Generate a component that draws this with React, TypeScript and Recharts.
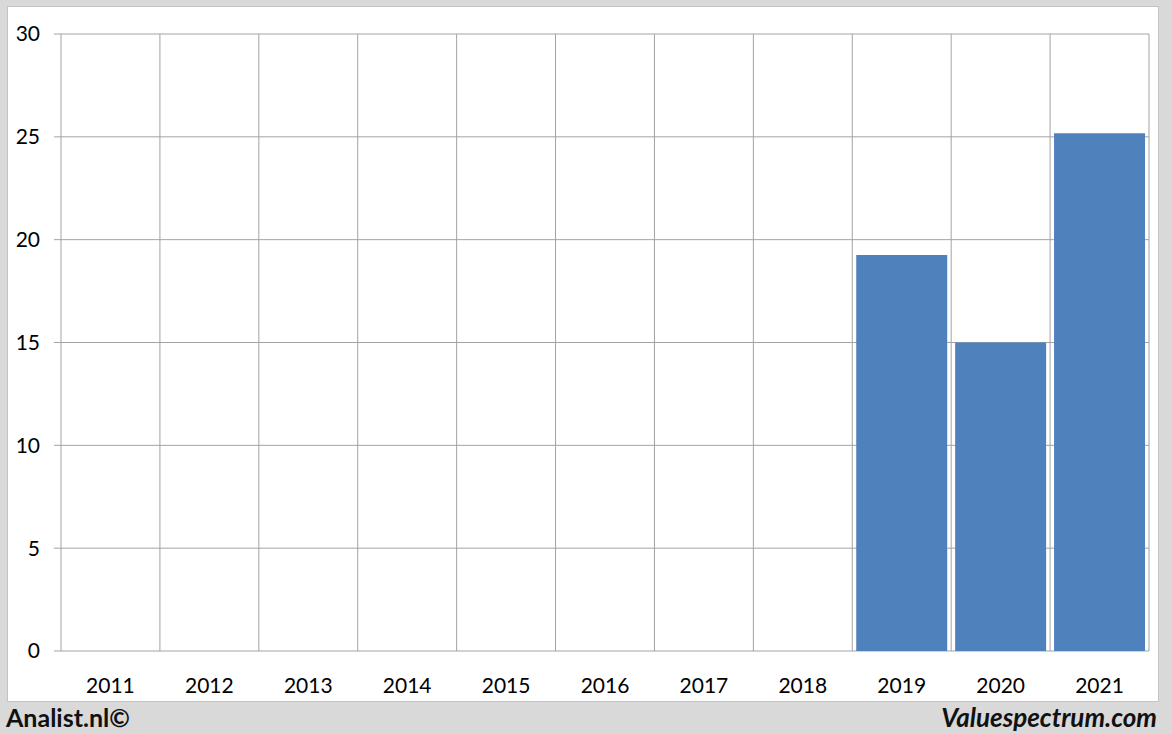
import { Bar, BarChart, CartesianGrid, XAxis, YAxis } from "recharts";

const YEARS = ["2011", "2012", "2013", "2014", "2015", "2016", "2017", "2018", "2019", "2020", "2021"];
const VALUES: (number | null)[] = [null, null, null, null, null, null, null, null, 19.25, 15.0, 25.18];
const Y_TICKS = [0, 5, 10, 15, 20, 25, 30];
// category boundaries on a 0..11 scale, used only for the vertical grid + tick marks
const BOUNDARIES = [0, 1, 2, 3, 4, 5, 6, 7, 8, 9, 10, 11];

const GRID = "#a3a3a3";
const BAR = "#4f81bd";
const FONT = 'Lato, "Open Sans", sans-serif';

const data = YEARS.map((year, i) => ({ year, value: VALUES[i], slot: i + 0.5 }));

export default function App() {
  return (
    <div
      style={{
        position: "absolute",
        left: 0,
        top: 0,
        width: 1172,
        height: 734,
        background: "#d9d9d9",
        fontFamily: FONT,
      }}
    >
      <div
        style={{
          position: "absolute",
          left: 7,
          top: 6,
          width: 1152,
          height: 696,
          background: "#ffffff",
          border: "1px solid #c4c4c4",
          boxSizing: "border-box",
        }}
      />
      <div style={{ position: "absolute", left: 0, top: 0 }}>
        <BarChart
          width={1172}
          height={702}
          data={data}
          margin={{ top: 34, right: 23, bottom: 0, left: 0 }}
          barCategoryGap="4%"
        >
          <CartesianGrid xAxisId="grid" stroke={GRID} strokeWidth={1} />
          <XAxis
            xAxisId="grid"
            type="number"
            dataKey="slot"
            domain={[0, 11]}
            ticks={BOUNDARIES}
            interval={0}
            allowDataOverflow
            height={0}
            tickFormatter={() => ""}
            tickSize={9}
            tickLine={{ stroke: GRID }}
            axisLine={false}
          />
          <XAxis
            xAxisId="cat"
            dataKey="year"
            height={51}
            tickLine={false}
            axisLine={false}
            tickSize={0}
            tickMargin={27}
            interval={0}
            tick={{ fontSize: 21, fill: "#000000", fontFamily: FONT }}
          />
          <YAxis
            domain={[0, 30]}
            ticks={Y_TICKS}
            width={61}
            tickSize={7}
            tickMargin={14}
            tickLine={{ stroke: GRID }}
            axisLine={false}
            tick={{ fontSize: 21, fill: "#000000", fontFamily: FONT }}
          />
          <Bar xAxisId="cat" dataKey="value" fill={BAR} isAnimationActive={false} />
        </BarChart>
      </div>
      <div
        style={{
          position: "absolute",
          left: 6,
          top: 701,
          fontSize: 25,
          fontWeight: 700,
          color: "#111111",
          lineHeight: "32px",
        }}
      >
        Analist.nl©
      </div>
      <div
        style={{
          position: "absolute",
          right: 15,
          top: 701,
          fontSize: 26,
          fontWeight: 700,
          fontStyle: "italic",
          color: "#111111",
          lineHeight: "32px",
        }}
      >
        Valuespectrum.com
      </div>
    </div>
  );
}
